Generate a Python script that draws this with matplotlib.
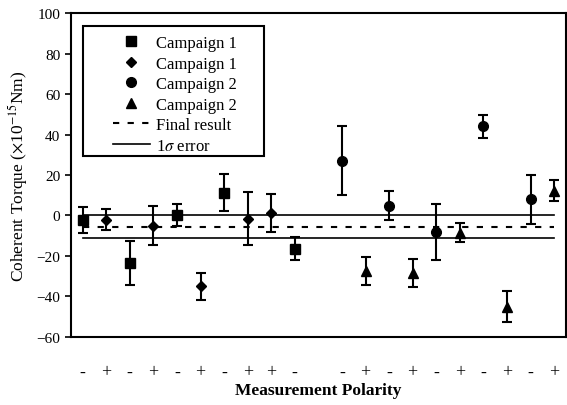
import matplotlib.pyplot as plt
from matplotlib.lines import Line2D
from matplotlib.patches import Rectangle

# slot 11 is empty in the original
pos_sq1 = [1, 3, 5, 7, 10]
val_sq1 = [-2.2, -23.5, 0.3, 11.3, -16.3]
err_sq1 = [6.6, 11.0, 5.3, 9.0, 5.5]

pos_di1 = [2, 4, 6, 8, 9]
val_di1 = [-2.0, -5.0, -35.0, -1.5, 1.2]
err_di1 = [5.0, 9.8, 6.6, 13.0, 9.5]

pos_ci2 = [12, 14, 16, 18, 20]
val_ci2 = [27.0, 4.9, -8.0, 44.0, 8.0]
err_ci2 = [17.0, 7.3, 13.8, 5.5, 12.2]

pos_tr2 = [13, 15, 17, 19, 21]
val_tr2 = [-27.5, -28.5, -8.5, -45.0, 12.3]
err_tr2 = [7.0, 6.8, 4.7, 7.5, 5.0]

final_result = -5.5
sigma = 5.8

polarity = ['-', '+', '-', '+', '-', '+', '-', '+', '+', '-', '',
            '-', '+', '-', '+', '-', '+', '-', '+', '-', '+']

plt.rcParams['font.family'] = ['Liberation Serif', 'DejaVu Serif']
plt.rcParams['mathtext.fontset'] = 'stix'

fig = plt.figure(figsize=(5.67, 4.06), dpi=100)
ax = fig.add_axes([0.125, 0.1675, 0.873, 0.798])

ekw = dict(color='black', ecolor='black', linestyle='none', elinewidth=1.5,
           capsize=3.5, capthick=1.5)
ax.errorbar(pos_sq1, val_sq1, yerr=err_sq1, marker='s', markersize=7, **ekw)
ax.errorbar(pos_di1, val_di1, yerr=err_di1, marker='D', markersize=5.5, **ekw)
ax.errorbar(pos_ci2, val_ci2, yerr=err_ci2, marker='o', markersize=7, **ekw)
ax.errorbar(pos_tr2, val_tr2, yerr=err_tr2, marker='^', markersize=7.5, **ekw)

ax.plot([1, 21], [final_result, final_result], color='black', linestyle=(0, (3, 4)),
        linewidth=1.5)
ax.plot([1, 21], [final_result + sigma] * 2, color='black', linewidth=1.2)
ax.plot([1, 21], [final_result - sigma] * 2, color='black', linewidth=1.2)

ax.set_xlim(0.5, 21.5)
ax.set_ylim(-60, 100)
ax.set_yticks(range(-60, 101, 20))
ax.set_xticks(range(1, 22))
ax.set_xticklabels(polarity, fontsize=13)
ax.tick_params(axis='x', length=0, pad=19)
ax.tick_params(axis='y', direction='out', length=4, width=1.2, labelsize=11)
for s in ax.spines.values():
    s.set_linewidth(1.5)

ax.set_ylabel(r'Coherent Torque ($\times$10$^{-15}$Nm)', fontsize=12.5, labelpad=5)
ax.set_xlabel('Measurement Polarity', fontsize=12.5, fontweight='bold', labelpad=1)

handles = [
    Line2D([], [], color='black', linestyle='none', marker='s', markersize=7),
    Line2D([], [], color='black', linestyle='none', marker='D', markersize=5.5),
    Line2D([], [], color='black', linestyle='none', marker='o', markersize=7),
    Line2D([], [], color='black', linestyle='none', marker='^', markersize=7.5),
    Line2D([], [], color='black', linestyle=(0, (3, 4)), linewidth=1.5),
    Line2D([], [], color='black', linewidth=1.2),
]
labels = ['Campaign 1', 'Campaign 1', 'Campaign 2', 'Campaign 2', 'Final result',
          r'1$\sigma$ error']
ax.legend(handles, labels, loc='upper left', bbox_to_anchor=(0.085, 0.932),
          fontsize=12, frameon=False, handlelength=2.2, handletextpad=0.4,
          borderpad=0, borderaxespad=0, labelspacing=0.27)
ax.add_patch(Rectangle((0.024, 0.559), 0.366, 0.401, transform=ax.transAxes,
                       fill=False, edgecolor='black', linewidth=1.5, zorder=5))

fig.savefig('out.png', dpi=100)
